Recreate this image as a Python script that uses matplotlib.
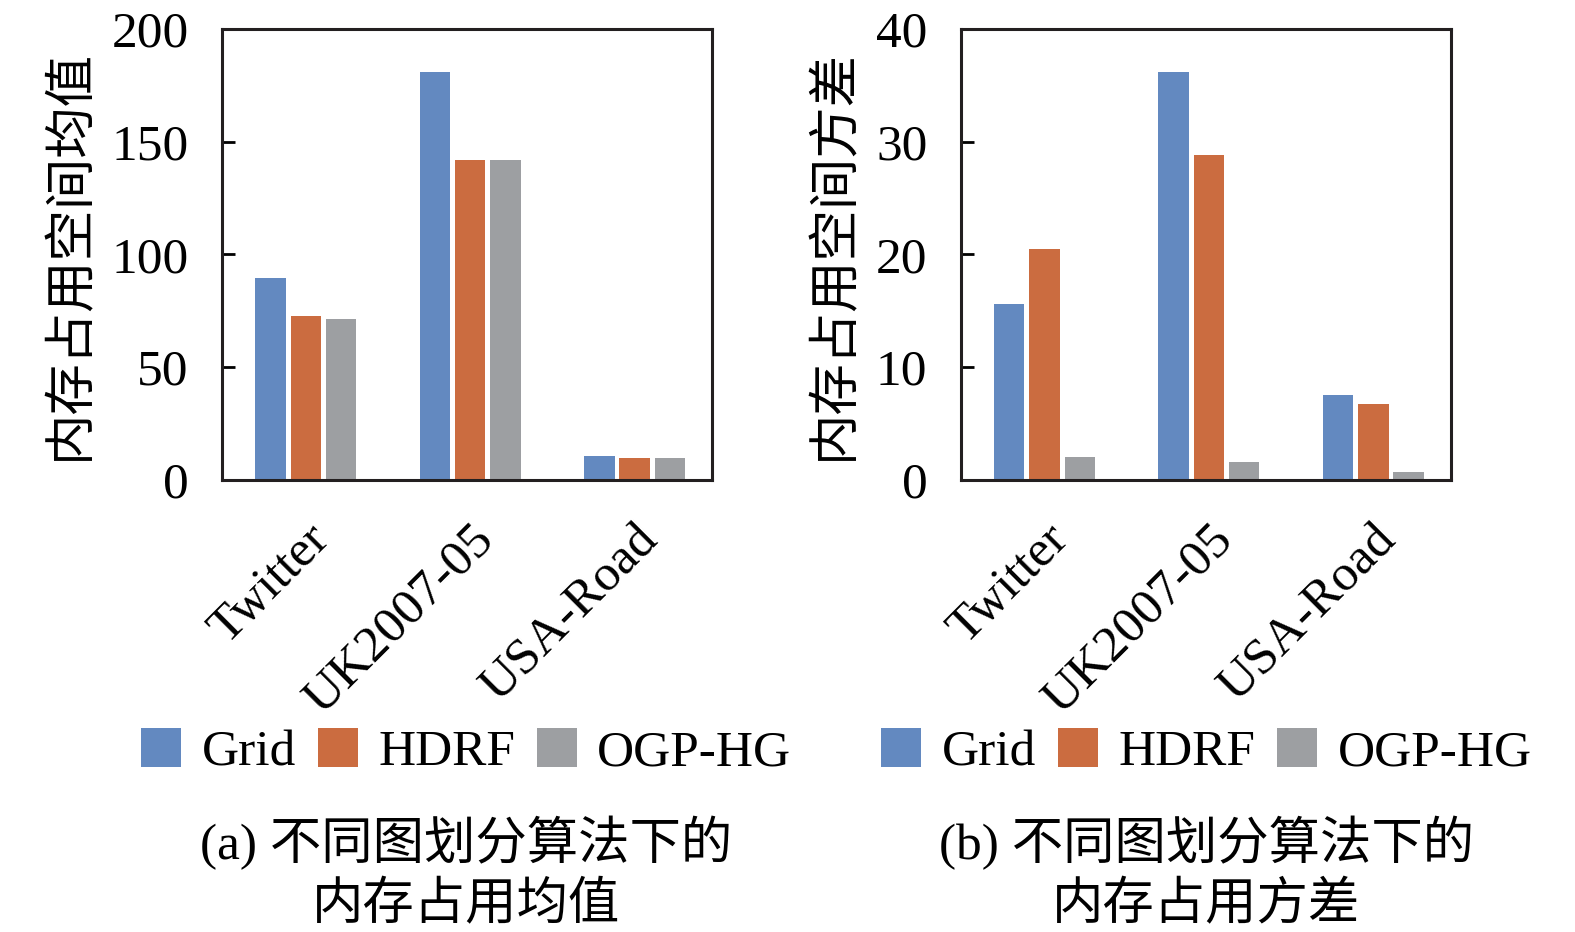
import matplotlib
matplotlib.use("Agg")
import matplotlib.pyplot as plt
import matplotlib.transforms as mtransforms
from matplotlib.patches import Patch
import numpy as np

plt.rcParams['font.family'] = ['Liberation Serif', 'Noto Sans CJK SC', 'DejaVu Sans']

datasets = ['Twitter', 'UK2007-05', 'USA-Road']
methods = ['Grid', 'HDRF', 'OGP-HG']
colors = ['#6389C0', '#CB6C40', '#9D9FA2']

mem_mean = {
    'Grid': [89.6, 181.0, 10.6],
    'HDRF': [72.7, 141.9, 9.8],
    'OGP-HG': [71.4, 141.9, 9.8],
}
mem_var = {
    'Grid': [15.6, 36.2, 7.5],
    'HDRF': [20.5, 28.8, 6.7],
    'OGP-HG': [2.0, 1.6, 0.7],
}

fig = plt.figure(figsize=(15.75, 9.32), dpi=100)
ax1 = fig.add_axes([0.141, 0.485, 0.311, 0.484])
ax2 = fig.add_axes([0.610, 0.485, 0.311, 0.484])

x = np.arange(len(datasets))
width = 0.185
step = 0.215

panels = [
    (ax1, mem_mean, [0, 50, 100, 150, 200], '内存占用空间均值', '(a) 不同图划分算法下的\n内存占用均值', 0.296),
    (ax2, mem_var, [0, 10, 20, 30, 40], '内存占用空间方差', '(b) 不同图划分算法下的\n内存占用方差', 0.766),
]

shift = mtransforms.ScaledTranslation(-10 / 100, 0, fig.dpi_scale_trans)

for ax, data, yticks, ylabel, caption, cx in panels:
    for i, m in enumerate(methods):
        ax.bar(x + (i - 1) * step, data[m], width, color=colors[i], label=m, zorder=2)
    ax.set_xlim(-0.51, 2.47)
    ax.set_ylim(yticks[0], yticks[-1])
    ax.set_yticks(yticks)
    ax.set_xticks(x)
    ax.set_xticklabels(datasets, rotation=45, ha='right', rotation_mode='anchor')
    for lbl in ax.get_xticklabels():
        lbl.set_transform(lbl.get_transform() + shift)
    ax.tick_params(axis='y', direction='in', length=9, width=2, labelsize=37, pad=24)
    ax.tick_params(axis='x', length=0, labelsize=37, pad=26)
    for s in ax.spines.values():
        s.set_linewidth(2.2)
        s.set_color('#231F20')
    ax.set_ylabel(ylabel, fontsize=37, labelpad=12)

    handles = [Patch(facecolor=colors[i], label=m) for i, m in enumerate(methods)]
    fig.legend(handles=handles, loc='center', bbox_to_anchor=(cx, 0.193), ncol=3,
               frameon=False, fontsize=37, handlelength=0.78, handleheight=0.78,
               handletextpad=0.4, columnspacing=0.42, borderpad=0.2)
    fig.text(cx, 0.063, caption, ha='center', va='center', fontsize=37, linespacing=1.32)

fig.savefig('out.png', dpi=100)
